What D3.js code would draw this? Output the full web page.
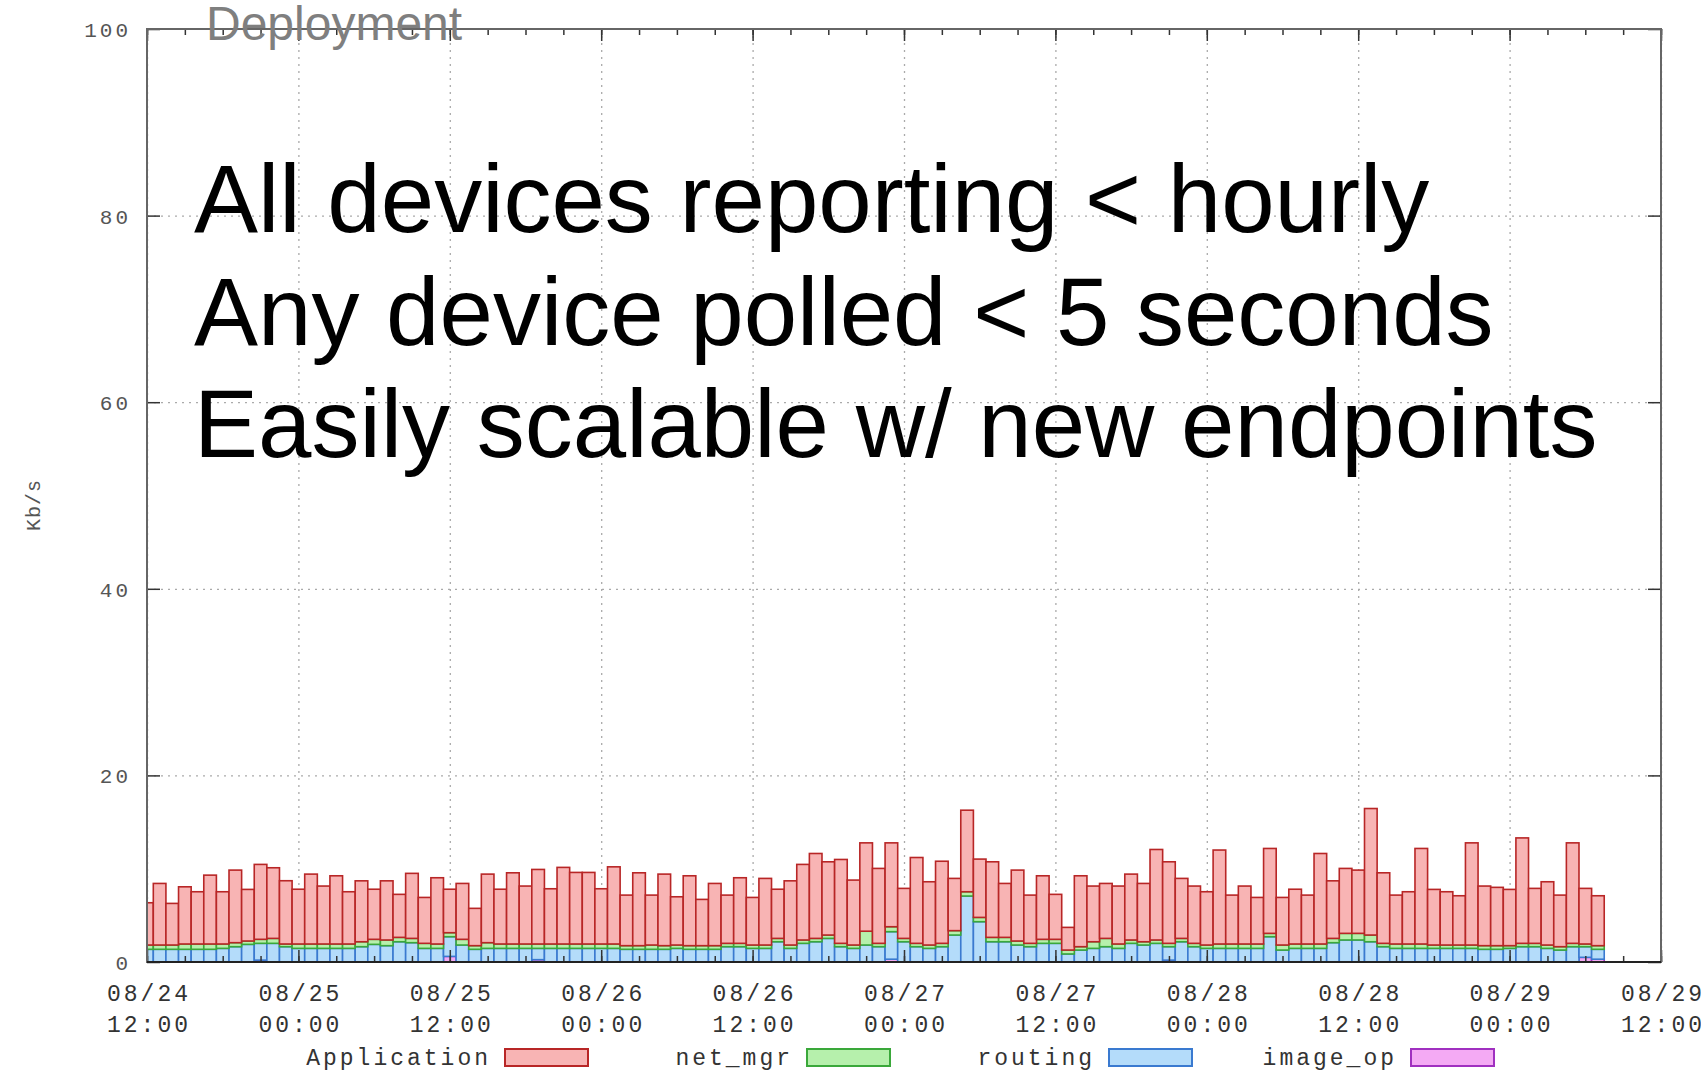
<!DOCTYPE html>
<html>
<head>
<meta charset="utf-8">
<script src="https://cdn.jsdelivr.net/npm/d3@7"></script>
<style>
  body { margin: 0; background: #fff; }
  svg { display: block; }
  .lbl { font-family: "Liberation Mono", "DejaVu Sans Mono", monospace; font-size: 23px; fill: #333; letter-spacing: 3px; }
  .overlay { font-family: "Liberation Sans", Arial, sans-serif; }
</style>
</head>
<body>
<svg width="1701" height="1075"></svg>
<script>
// hourly samples, first one at 08/24 12:00
var firstHour = "2011-08-24T12:00:00Z";

var application = [
  4.53, 6.60, 4.46, 6.13, 5.60, 7.38, 5.60, 7.78, 5.53, 8.03,
  7.57, 6.78, 5.87, 7.49, 6.21, 7.31, 5.60, 6.53, 5.37, 6.34,
  4.61, 6.97, 4.92, 7.10, 4.66, 5.99, 4.00, 7.35, 5.87, 7.63,
  6.21, 7.99, 5.92, 8.21, 7.67, 7.67, 5.92, 8.27, 5.42, 7.81,
  5.35, 7.67, 5.17, 7.49, 4.96, 6.67, 5.17, 7.03, 5.10, 7.14,
  5.27, 6.88, 8.10, 9.10, 7.85, 8.99, 6.96, 9.47, 8.03, 8.99,
  5.36, 9.20, 6.78, 8.80, 5.60, 8.74, 6.25, 8.10, 5.78, 7.60,
  5.17, 6.81, 4.82, 2.43, 7.60, 5.97, 5.89, 6.21, 7.06, 6.25,
  9.70, 8.74, 6.43, 6.14, 5.71, 10.07, 5.24, 6.21, 4.99, 9.10,
  5.10, 5.87, 5.24, 9.70, 6.17, 6.96, 6.78, 13.56, 7.56, 5.24,
  5.60, 10.24, 5.96, 5.71, 5.28, 10.95, 6.39, 6.25, 6.03, 11.30,
  5.89, 6.78, 5.53, 10.77, 5.96, 5.35
];
var netMgr = [
  0.46, 0.46, 0.46, 0.57, 0.57, 0.57, 0.47, 0.43, 0.36, 0.43,
  0.53, 0.29, 0.47, 0.47, 0.47, 0.47, 0.47, 0.53, 0.54, 0.61,
  0.47, 0.46, 0.54, 0.47, 0.43, 0.61, 0.39, 0.61, 0.47, 0.47,
  0.47, 0.47, 0.47, 0.47, 0.47, 0.47, 0.47, 0.47, 0.39, 0.39,
  0.46, 0.39, 0.36, 0.39, 0.39, 0.39, 0.36, 0.36, 0.36, 0.36,
  0.36, 0.36, 0.36, 0.36, 0.36, 0.36, 0.36, 1.48, 0.36, 0.53,
  0.36, 0.36, 0.36, 0.36, 0.47, 0.46, 0.46, 0.47, 0.47, 0.43,
  0.36, 0.43, 0.43, 0.42, 0.36, 0.71, 0.89, 0.47, 0.36, 0.35,
  0.36, 0.36, 0.36, 0.36, 0.36, 0.47, 0.47, 0.47, 0.47, 0.36,
  0.54, 0.47, 0.47, 0.47, 0.46, 0.71, 0.71, 0.72, 0.36, 0.47,
  0.47, 0.47, 0.36, 0.36, 0.36, 0.36, 0.39, 0.39, 0.29, 0.36,
  0.36, 0.36, 0.36, 0.36, 0.29, 0.39
];
var routing = [
  1.36, 1.36, 1.36, 1.36, 1.36, 1.36, 1.46, 1.64, 1.89, 1.80,
  2.00, 1.64, 1.46, 1.46, 1.46, 1.46, 1.46, 1.64, 1.89, 1.75,
  2.17, 2.07, 1.46, 1.46, 2.11, 1.82, 1.36, 1.46, 1.46, 1.46,
  1.46, 1.21, 1.46, 1.46, 1.46, 1.46, 1.46, 1.46, 1.36, 1.36,
  1.36, 1.36, 1.46, 1.36, 1.36, 1.36, 1.64, 1.64, 1.46, 1.46,
  2.17, 1.46, 2.00, 2.17, 2.53, 1.64, 1.46, 1.82, 1.64, 2.95,
  2.17, 1.64, 1.46, 1.64, 2.89, 7.07, 4.32, 2.17, 2.17, 1.82,
  1.64, 2.00, 2.00, 0.86, 1.28, 1.46, 1.64, 1.46, 2.00, 1.82,
  2.00, 1.44, 2.17, 1.64, 1.46, 1.46, 1.46, 1.46, 1.46, 2.71,
  1.28, 1.46, 1.46, 1.46, 2.07, 2.36, 2.36, 2.17, 1.64, 1.46,
  1.46, 1.46, 1.46, 1.46, 1.46, 1.46, 1.36, 1.36, 1.46, 1.64,
  1.64, 1.46, 1.28, 1.64, 1.14, 1.06
];
var imageOp = [
  0, 0, 0, 0, 0, 0, 0, 0, 0, 0.2,
  0, 0, 0, 0, 0, 0, 0, 0, 0, 0,
  0, 0, 0, 0, 0.6, 0, 0, 0, 0, 0,
  0, 0.25, 0, 0, 0, 0, 0, 0, 0, 0,
  0, 0, 0, 0, 0, 0, 0, 0, 0, 0,
  0, 0, 0, 0, 0, 0, 0, 0, 0, 0.3,
  0, 0, 0, 0, 0, 0, 0, 0, 0, 0,
  0, 0, 0, 0, 0, 0, 0, 0, 0, 0,
  0, 0.2, 0, 0, 0, 0, 0, 0, 0, 0,
  0, 0, 0, 0, 0, 0, 0, 0, 0, 0,
  0, 0, 0, 0, 0, 0, 0, 0, 0, 0,
  0, 0, 0, 0, 0.5, 0.3
];

var seriesNames = ["Application", "net_mgr", "routing", "image_op"];
var xTicks = ["2011-08-24T12:00:00Z", "2011-08-25T00:00:00Z", "2011-08-25T12:00:00Z",
  "2011-08-26T00:00:00Z", "2011-08-26T12:00:00Z", "2011-08-27T00:00:00Z",
  "2011-08-27T12:00:00Z", "2011-08-28T00:00:00Z", "2011-08-28T12:00:00Z",
  "2011-08-29T00:00:00Z", "2011-08-29T12:00:00Z"];
var yTicks = [0, 20, 40, 60, 80, 100];
var noteLines = ["All devices reporting < hourly", "Any device polled < 5 seconds", "Easily scalable w/ new endpoints"];

main();

function main() {
  var svg = d3.select("svg"),
    margin = { top: 29, right: 40, bottom: 113, left: 147 },
    width = +svg.attr("width") - margin.left - margin.right,
    height = +svg.attr("height") - margin.top - margin.bottom;

  var fills = { "Application": "#f8b4b4", "net_mgr": "#b6f0ac", "routing": "#b4dcfa", "image_op": "#f4aaf4" };
  var strokes = { "Application": "#b82626", "net_mgr": "#3aa83a", "routing": "#3a7ad0", "image_op": "#a030c0" };

  var t0 = new Date(firstHour);
  var rows = application.map(function(v, i) {
    return {
      time: d3.utcHour.offset(t0, i),
      "Application": v,
      "net_mgr": netMgr[i],
      "routing": routing[i],
      "image_op": imageOp[i]
    };
  });

  var tickDates = xTicks.map(function(s) { return new Date(s); });
  var x = d3.scaleUtc()
    .domain([tickDates[0], tickDates[tickDates.length - 1]])
    .range([0, width]);
  var y = d3.scaleLinear().domain([0, 100]).range([height, 0]);
  var bw = x(d3.utcHour.offset(t0, 1)) - x(t0);

  var g = svg.append("g").attr("transform", "translate(" + margin.left + "," + margin.top + ")");

  svg.append("defs").append("clipPath").attr("id", "plotclip")
    .append("rect").attr("width", width).attr("height", height);

  // grid
  g.append("g")
    .attr("class", "grid")
    .call(d3.axisBottom(x).tickValues(tickDates).tickSize(height).tickFormat(""))
    .call(function(s) {
      s.select(".domain").remove();
      s.selectAll("line").attr("stroke", "#aaa").attr("stroke-width", 1.3).attr("stroke-dasharray", "2,5");
    });
  g.append("g")
    .attr("class", "grid")
    .call(d3.axisLeft(y).tickValues(yTicks.slice(1, -1)).tickSize(-width).tickFormat(""))
    .call(function(s) {
      s.select(".domain").remove();
      s.selectAll("line").attr("stroke", "#aaa").attr("stroke-width", 1.3).attr("stroke-dasharray", "2,5");
    });

  // stacked bars, image_op at the bottom
  var stack = d3.stack().keys(["image_op", "routing", "net_mgr", "Application"]);
  var layers = stack(rows);

  var bars = g.append("g").attr("clip-path", "url(#plotclip)");
  bars.selectAll(".layer")
    .data(layers)
    .enter()
    .append("g")
    .attr("class", "layer")
    .attr("fill", function(d) { return fills[d.key]; })
    .attr("stroke", function(d) { return strokes[d.key]; })
    .attr("stroke-width", 1.6)
    .selectAll("rect")
    .data(function(d) { return d.filter(function(p) { return p[1] - p[0] > 0; }); })
    .enter()
    .append("rect")
    .attr("x", function(d) { return x(d.data.time) - bw / 2; })
    .attr("y", function(d) { return y(d[1]); })
    .attr("width", bw)
    .attr("height", function(d) { return y(d[0]) - y(d[1]); });

  // ticks (gnuplot style, pointing inward, mirrored)
  function tickStyle(s) {
    s.select(".domain").remove();
    s.selectAll("line").attr("stroke", "#333").attr("stroke-width", 1.5);
  }
  var minor = d3.utcHour.every(3).range(tickDates[0], d3.utcHour.offset(tickDates[10], 1));
  g.append("g").attr("transform", "translate(0," + height + ")")
    .call(d3.axisBottom(x).tickValues(minor).tickSize(-6).tickFormat("")).call(tickStyle);
  g.append("g")
    .call(d3.axisTop(x).tickValues(minor).tickSize(-6).tickFormat("")).call(tickStyle);
  g.append("g").attr("transform", "translate(0," + height + ")")
    .call(d3.axisBottom(x).tickValues(tickDates).tickSize(-12).tickFormat("")).call(tickStyle);
  g.append("g")
    .call(d3.axisTop(x).tickValues(tickDates).tickSize(-12).tickFormat("")).call(tickStyle);
  g.append("g")
    .call(d3.axisLeft(y).tickValues(yTicks).tickSize(-13).tickFormat("")).call(tickStyle);
  g.append("g").attr("transform", "translate(" + width + ",0)")
    .call(d3.axisRight(y).tickValues(yTicks).tickSize(-13).tickFormat("")).call(tickStyle);

  // border
  g.append("rect")
    .attr("width", width)
    .attr("height", height)
    .attr("fill", "none")
    .attr("stroke", "#666")
    .attr("stroke-width", 2);
  g.append("line")
    .attr("x1", 0).attr("x2", width)
    .attr("y1", height).attr("y2", height)
    .attr("stroke", "#222").attr("stroke-width", 2);

  // y tick labels
  g.selectAll(".ylbl")
    .data(yTicks)
    .enter()
    .append("text")
    .attr("class", "lbl")
    .attr("x", -16)
    .attr("y", function(d) { return y(d) + 8; })
    .attr("text-anchor", "end")
    .style("font-size", "21px")
    .style("fill", "#555")
    .text(function(d) { return d; });

  // x tick labels, two lines
  var fmtDay = d3.utcFormat("%m/%d"), fmtTime = d3.utcFormat("%H:%M");
  var xl = g.selectAll(".xlbl")
    .data(tickDates)
    .enter()
    .append("text")
    .attr("class", "lbl")
    .attr("text-anchor", "middle")
    .attr("transform", function(d) { return "translate(" + (x(d) + 2) + "," + (height + 39) + ")"; });
  xl.append("tspan").attr("x", 0).attr("y", 0).text(fmtDay);
  xl.append("tspan").attr("x", 0).attr("y", 31).text(fmtTime);

  // y axis label
  svg.append("text")
    .attr("class", "lbl")
    .attr("transform", "translate(40,505) rotate(-90)")
    .attr("text-anchor", "middle")
    .style("font-size", "20px")
    .style("letter-spacing", "1px")
    .style("fill", "#555")
    .text("Kb/s");

  // legend
  var legend = svg.selectAll(".legend")
    .data(seriesNames)
    .enter()
    .append("g")
    .attr("class", "legend")
    .attr("transform", function(d, i) { return "translate(" + (505 + 302 * i) + ",1049)"; });
  legend.append("rect")
    .attr("width", 83)
    .attr("height", 17)
    .attr("fill", function(d) { return fills[d]; })
    .attr("stroke", function(d) { return strokes[d]; })
    .attr("stroke-width", 2);
  legend.append("text")
    .attr("class", "lbl")
    .attr("x", -14)
    .attr("y", 16)
    .attr("text-anchor", "end")
    .text(function(d) { return d; });

  // slide overlay text
  svg.append("text")
    .attr("class", "overlay")
    .attr("x", 206)
    .attr("y", 40)
    .style("font-size", "48px")
    .style("fill", "#7f7f7f")
    .text("Deployment");

  svg.selectAll(".note")
    .data(noteLines)
    .enter()
    .append("text")
    .attr("class", "overlay note")
    .attr("x", 194)
    .attr("y", function(d, i) { return 232 + 112.5 * i; })
    .style("font-size", "96px")
    .style("fill", "#000")
    .text(function(d) { return d; });
}
</script>
</body>
</html>
